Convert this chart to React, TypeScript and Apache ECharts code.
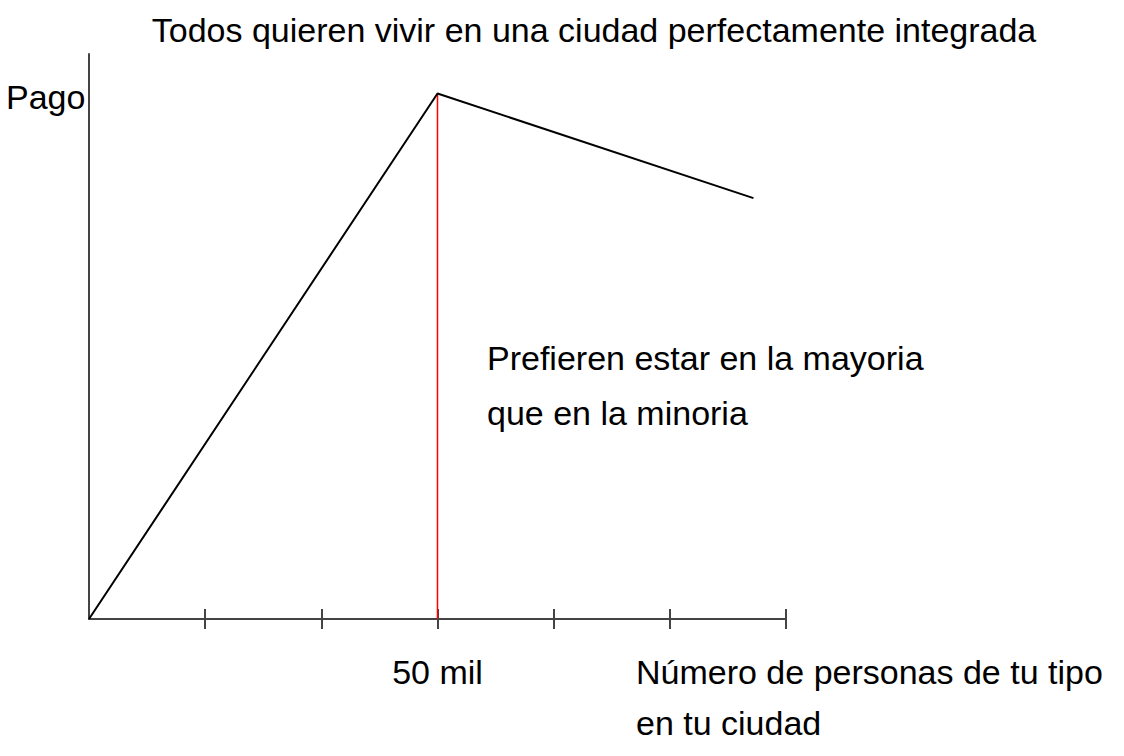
import React, { useEffect, useRef } from "react";
import * as echarts from "echarts";

const titleText = "Todos quieren vivir en una ciudad perfectamente integrada";
const yLabel = "Pago";
const xLabelLines = ["Número de personas de tu tipo", "en tu ciudad"];
const noteLines = ["Prefieren estar en la mayoria", "que en la minoria"];
const tickLabel = "50 mil";
const peakX = 3;
const tickValues = [1, 2, 3, 4, 5, 6];

// payoff curve: x (tick units), y (payoff)
const curveX = [0, 3, 5.72];
const curveY = [0, 93, 74.5];
const peakLineY = [0, 93];

const FONT = "Liberation Sans";
const FS = 34;

export default function App() {
  const ref = useRef<HTMLDivElement>(null);
  useEffect(() => {
    if (!ref.current) return;
    const chart = echarts.init(ref.current, null, { renderer: "svg" });
    const axisCommon = {
      type: "value" as const,
      min: 0,
      max: 6,
      interval: 1,
      splitLine: { show: false },
    };
    const txt = (text: string, x: number, y: number, align = "left") => ({
      type: "text",
      x,
      y,
      style: { text, font: `${FS}px "${FONT}"`, fill: "#000", align, verticalAlign: "middle" },
    });
    chart.setOption({
      animation: false,
      backgroundColor: "#ffffff",
      grid: { left: 89, right: 338, top: 54, bottom: 137 },
      xAxis: [
        {
          ...axisCommon,
          axisLine: { show: true, lineStyle: { color: "#444", width: 2 } },
          axisTick: { show: true, inside: false, length: 10, customValues: tickValues, lineStyle: { color: "#444", width: 2 } },
          axisLabel: {
            show: true,
            margin: 36,
            fontFamily: FONT,
            fontSize: FS,
            color: "#000",
            formatter: (v: number) => (v === peakX ? tickLabel : ""),
          },
        },
        {
          ...axisCommon,
          position: "bottom",
          axisLine: { show: false },
          axisTick: { show: true, inside: true, length: 10, customValues: tickValues, lineStyle: { color: "#444", width: 2 } },
          axisLabel: { show: false },
        },
      ],
      yAxis: {
        type: "value",
        min: 0,
        max: 100,
        axisLine: { show: true, lineStyle: { color: "#444", width: 2 } },
        axisTick: { show: false },
        axisLabel: { show: false },
        splitLine: { show: false },
      },
      series: [
        {
          type: "line",
          data: peakLineY.map((y) => [peakX, y]),
          symbol: "none",
          color: "#ff0000",
          lineStyle: { color: "#ff0000", width: 1.5 },
          z: 5,
        },
        {
          type: "line",
          data: curveX.map((x, i) => [x, curveY[i]]),
          symbol: "none",
          color: "#000",
          lineStyle: { color: "#000", width: 2 },
          z: 6,
        },
      ],
      graphic: [
        txt(titleText, 594, 30, "center"),
        txt(yLabel, 6, 97),
        txt(noteLines[0], 487, 358),
        txt(noteLines[1], 487, 413),
        txt(xLabelLines[0], 636, 672),
        txt(xLabelLines[1], 636, 723),
      ],
    });
    return () => chart.dispose();
  }, []);
  return (
    <div
      ref={ref}
      style={{ position: "absolute", left: 0, top: 0, width: 1124, height: 756 }}
    />
  );
}
